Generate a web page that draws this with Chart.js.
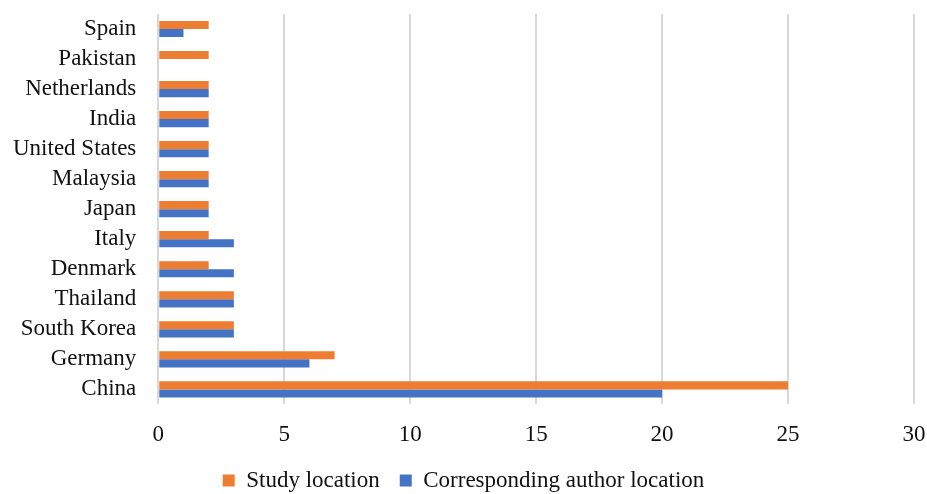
<!DOCTYPE html>
<html>
<head>
<meta charset="utf-8">
<script src="https://cdn.jsdelivr.net/npm/chart.js@4/dist/chart.umd.min.js"></script>
<style>
  html, body { margin: 0; padding: 0; background: #fff; }
  #wrap { width: 927px; height: 494px; }
</style>
</head>
<body>
<div id="wrap"><canvas id="chart" width="927" height="494"></canvas></div>
<script>
const countries = ["Spain", "Pakistan", "Netherlands", "India", "United States", "Malaysia",
  "Japan", "Italy", "Denmark", "Thailand", "South Korea", "Germany", "China"];
const studyLocation = [2, 2, 2, 2, 2, 2, 2, 2, 2, 3, 3, 7, 25];
const authorLocation = [1, 0, 2, 2, 2, 2, 2, 3, 3, 3, 3, 6, 20];

const fontFamily = "'Liberation Serif', 'DejaVu Serif', serif";

const ctx = document.getElementById("chart").getContext("2d");
new Chart(ctx, {
  type: "bar",
  data: {
    labels: countries,
    datasets: [
      {
        label: "Study location",
        data: studyLocation,
        backgroundColor: "#ed7d31",
      },
      {
        label: "Corresponding author location",
        data: authorLocation,
        backgroundColor: "#4472c4",
      },
    ],
  },
  options: {
    indexAxis: "y",
    responsive: false,
    animation: false,
    categoryPercentage: 0.54,
    barPercentage: 1.0,
    layout: { padding: { top: 14, right: 13, left: 13, bottom: -8 } },
    scales: {
      x: {
        min: 0,
        max: 30,
        ticks: {
          stepSize: 5,
          color: "#111",
          padding: 0,
          font: { family: fontFamily, size: 23 },
        },
        grid: { color: "#d9d9d9", lineWidth: 2, drawTicks: true, tickLength: 17, tickColor: "rgba(0,0,0,0)" },
        border: { display: false },
      },
      y: {
        ticks: {
          color: "#111",
          padding: 0,
          autoSkip: false,
          font: { family: fontFamily, size: 23 },
        },
        grid: { display: true, drawOnChartArea: false, drawTicks: true, tickLength: 22, tickColor: "rgba(0,0,0,0)", color: "rgba(0,0,0,0)" },
        border: { display: false },
      },
    },
    plugins: {
      legend: {
        position: "bottom",
        labels: {
          color: "#111",
          boxWidth: 12,
          boxHeight: 12,
          padding: 20,
          font: { family: fontFamily, size: 23 },
        },
      },
      tooltip: { enabled: false },
    },
  },
});
</script>
</body>
</html>
